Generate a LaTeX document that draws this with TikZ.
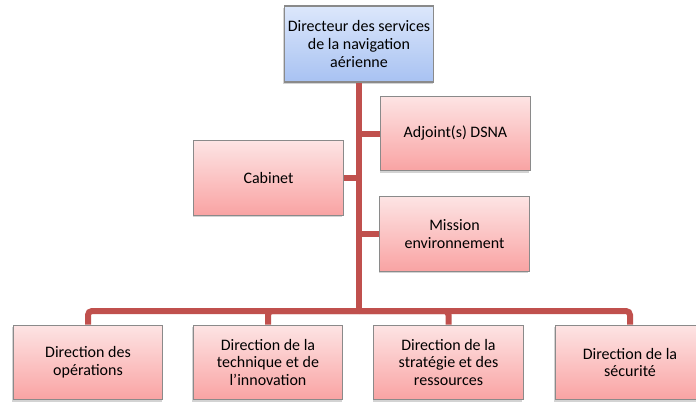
\documentclass[tikz,border=0pt]{standalone}
\usepackage{fontspec}
\setmainfont{Carlito}
\usetikzlibrary{shadows}

\definecolor{linkred}{HTML}{C0504D}
\definecolor{pinktop}{HTML}{FDE4E4}
\definecolor{pinkbot}{HTML}{F9A3A3}
\definecolor{bluetop}{HTML}{DCE7FB}
\definecolor{bluebot}{HTML}{A8C2F2}
\definecolor{edgegray}{HTML}{8A8A8A}

\tikzset{
    unit/.style={draw=edgegray, line width=0.8pt, align=center,
        minimum width=112pt, minimum height=56pt, inner sep=2pt,
        font=\fontsize{12}{13.2}\selectfont,
        drop shadow={shadow xshift=-0.8pt, shadow yshift=-1.6pt, opacity=0.35}},
    redunit/.style={unit, top color=pinktop, bottom color=pinkbot},
    blueunit/.style={unit, top color=bluetop, bottom color=bluebot, minimum height=57pt},
    link/.style={draw=linkred, line width=4.5pt}
}

\begin{document}
\begin{tikzpicture}[x=0.75pt,y=-0.75pt]
            \useasboundingbox (0,0) rectangle (696,403);

            \node (D) at (359,44) [blueunit] {Directeur des services\\de la navigation\\aérienne};

            \node (A) at (455.5,133.5) [redunit] {Adjoint(s) DSNA};
            \node (C) at (268.5,178) [redunit] {Cabinet};
            \node (M) at (454.5,234) [redunit] {Mission\\environnement};

            \node (O) at (88,362.5) [redunit] {Direction des\\opérations};
            \node (T) at (268,362.5) [redunit] {Direction de la\\technique et de\\l’innovation};
            \node (S) at (448.5,362.5) [redunit] {Direction de la\\stratégie et des\\ressources};
            \node (R) at (630,362.5) [redunit] {Direction de la\\sécurité};

            \coordinate (J) at (359,311);

            \draw [link] (D.south) -- (J);
            \draw [link] (C.east) -- (C.east -| J);
            \foreach \n in {A,M}
                {
                    \draw [link] (\n.west) -- (\n.west -| J);
                }
            \foreach \n in {O,T,S,R}
                {
                    \draw [link, rounded corners=3pt] (J) -| (\n.north);
                }

        \end{tikzpicture}
\end{document}
